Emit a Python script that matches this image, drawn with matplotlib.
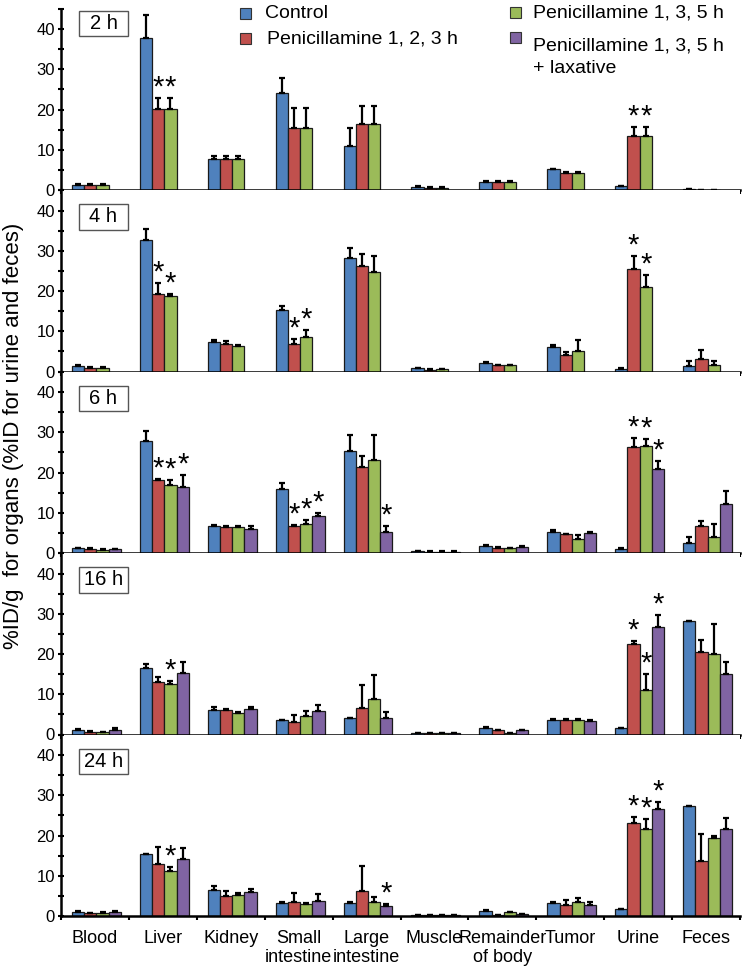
import matplotlib
matplotlib.use("Agg")
import matplotlib.pyplot as plt
from matplotlib.patches import Rectangle
import numpy as np

plt.rcParams['font.family'] = ['Liberation Sans', 'DejaVu Sans']

categories = ["Blood", "Liver", "Kidney", "Small\nintestine", "Large\nintestine",
              "Muscle", "Remainder\nof body", "Tumor", "Urine", "Feces"]
series_names = ["Control", "Penicillamine 1, 2, 3 h", "Penicillamine 1, 3, 5 h",
                "Penicillamine 1, 3, 5 h\n+ laxative"]
series_colors = ["#4F81BD", "#C0504D", "#9BBB59", "#8064A2"]
panel_labels = ["2 h", "4 h", "6 h", "16 h", "24 h"]
y_ticks = [0, 10, 20, 30, 40]

# ---- 2 h ----
means_2h = [
    [1.2, 37.7, 7.7, 24.2, 10.9, 0.8, 2.1, 5.1, 0.9, 0.2],
    [1.2, 20.2, 7.7, 15.3, 16.3, 0.6, 2.1, 4.3, 13.5, 0.1],
    [1.2, 20.2, 7.7, 15.3, 16.3, 0.6, 2.1, 4.3, 13.5, 0.1],
]
errs_2h = [
    [0.2, 5.8, 0.7, 3.7, 4.6, 0.1, 0.2, 0.2, 0.1, 0.0],
    [0.2, 2.6, 0.7, 5.1, 4.5, 0.1, 0.2, 0.2, 2.2, 0.0],
    [0.2, 2.6, 0.7, 5.1, 4.5, 0.1, 0.2, 0.2, 2.2, 0.0],
]
stars_2h = [(1, 1), (1, 2), (8, 1), (8, 2)]

# ---- 4 h ----
means_4h = [
    [1.3, 32.6, 7.4, 15.4, 28.1, 0.8, 2.1, 6.0, 0.7, 1.3],
    [0.9, 19.2, 6.9, 6.9, 26.1, 0.4, 1.5, 4.2, 25.5, 3.1],
    [0.9, 18.8, 6.4, 8.6, 24.8, 0.6, 1.5, 5.0, 21.1, 1.7],
]
errs_4h = [
    [0.2, 2.9, 0.5, 1.0, 2.5, 0.1, 0.2, 0.5, 0.1, 1.3],
    [0.1, 2.8, 0.8, 1.2, 3.1, 0.1, 0.1, 0.6, 3.1, 2.3],
    [0.1, 0.4, 0.2, 1.6, 4.0, 0.1, 0.1, 2.8, 2.8, 1.0],
]
stars_4h = [(1, 1), (1, 2), (3, 1), (3, 2), (8, 1), (8, 2)]

# ---- 6 h ----
means_6h = [
    [1.2, 27.8, 6.7, 15.9, 25.4, 0.5, 1.7, 5.2, 1.1, 2.4],
    [1.1, 18.2, 6.4, 6.8, 21.4, 0.3, 1.3, 4.6, 26.3, 6.6],
    [0.8, 16.8, 6.4, 7.2, 23.2, 0.3, 1.2, 3.6, 26.7, 3.9],
    [0.9, 16.4, 6.0, 9.1, 5.1, 0.3, 1.5, 4.9, 20.8, 12.1],
]
errs_6h = [
    [0.1, 2.4, 0.3, 1.6, 3.8, 0.1, 0.2, 0.6, 0.1, 1.7],
    [0.1, 0.2, 0.3, 0.1, 2.7, 0.1, 0.1, 0.2, 2.3, 1.3],
    [0.1, 1.3, 0.4, 1.1, 6.0, 0.1, 0.1, 0.9, 1.7, 3.4],
    [0.1, 2.9, 0.7, 0.8, 1.7, 0.1, 0.2, 0.2, 2.0, 3.2],
]
stars_6h = [(1, 1), (1, 2), (1, 3), (3, 1), (3, 2), (3, 3), (4, 3),
            (8, 1), (8, 2), (8, 3)]

# ---- 16 h ----
means_16h = [
    [1.2, 16.5, 6.2, 3.5, 4.0, 0.3, 1.7, 3.6, 1.6, 28.3],
    [0.7, 13.0, 6.0, 3.2, 6.6, 0.3, 1.1, 3.7, 22.6, 20.5],
    [0.6, 12.5, 5.4, 4.6, 8.9, 0.3, 0.3, 3.6, 11.1, 19.9],
    [1.2, 15.3, 6.3, 5.8, 4.2, 0.3, 1.0, 3.4, 26.7, 15.0],
]
errs_16h = [
    [0.2, 1.1, 0.7, 0.2, 0.2, 0.05, 0.1, 0.2, 0.1, 0.0],
    [0.1, 1.4, 0.3, 1.7, 5.6, 0.05, 0.1, 0.2, 0.7, 2.9],
    [0.1, 0.7, 0.2, 1.2, 5.9, 0.05, 0.05, 0.2, 3.9, 7.6],
    [0.3, 2.6, 0.5, 1.6, 1.3, 0.05, 0.1, 0.1, 3.1, 3.1],
]
stars_16h = [(1, 2), (8, 1), (8, 2), (8, 3)]

# ---- 24 h ----
means_24h = [
    [1.1, 15.4, 6.4, 3.3, 3.3, 0.3, 1.3, 3.3, 1.7, 27.4],
    [0.7, 12.9, 5.0, 3.6, 6.3, 0.2, 0.15, 2.8, 23.2, 13.7],
    [0.8, 11.2, 5.3, 3.0, 3.6, 0.3, 0.9, 3.6, 21.6, 19.3],
    [1.1, 14.2, 5.9, 3.8, 2.6, 0.2, 0.5, 2.8, 26.7, 21.6],
]
errs_24h = [
    [0.1, 0.1, 1.0, 0.3, 0.3, 0.05, 0.1, 0.3, 0.1, 0.0],
    [0.1, 4.3, 1.1, 2.2, 6.1, 0.05, 0.05, 1.3, 1.5, 6.6],
    [0.1, 1.0, 0.3, 0.3, 1.0, 0.05, 0.1, 0.8, 2.4, 0.6],
    [0.1, 2.6, 0.8, 1.7, 0.3, 0.05, 0.1, 0.8, 1.7, 2.7],
]
stars_24h = [(1, 2), (4, 3), (8, 1), (8, 2), (8, 3)]

panels = [
    (means_2h, errs_2h, stars_2h),
    (means_4h, errs_4h, stars_4h),
    (means_6h, errs_6h, stars_6h),
    (means_16h, errs_16h, stars_16h),
    (means_24h, errs_24h, stars_24h),
]

W, H = 747, 974
fig = plt.figure(figsize=(W / 100, H / 100), dpi=100)

def fx(px):
    return px / W

def fy(py):
    return 1 - py / H

left_px, right_px = 61, 740
bottoms_px = [190, 371.5, 553, 734.5, 916]
panel_h = 181.5
ytop = 45.1
bar_w = 0.18
bar_off = 0.162
box_tops = [44.6, 41.6, 41.6, 41.6, 41.6]

x_cat = np.arange(len(categories))

for p, (means, errs, stars) in enumerate(panels):
    b = bottoms_px[p]
    ax = fig.add_axes([fx(left_px), fy(b), fx(right_px - left_px), panel_h / H])
    ax.set_xlim(0, len(categories))
    ax.set_ylim(0, ytop)
    for j, (m, e) in enumerate(zip(means, errs)):
        xs = x_cat + bar_off + bar_w * j
        ax.bar(xs, m, width=bar_w, align='edge', color=series_colors[j],
               edgecolor='#1a1a1a', linewidth=0.9, zorder=2)
        ax.errorbar(xs + bar_w / 2, m, yerr=[np.zeros(len(e)), e], fmt='none',
                    ecolor='black', elinewidth=1.6, capsize=2.2, capthick=1.6,
                    zorder=3)
    for (ci, sj) in stars:
        top = means[sj][ci] + errs[sj][ci]
        ax.text(ci + bar_off + bar_w * sj + bar_w / 2, top + 2.6, "*",
                ha='center', va='center', fontsize=21, zorder=4)
    for s in ['top', 'right']:
        ax.spines[s].set_visible(False)
    for s in ['left', 'bottom']:
        ax.spines[s].set_linewidth(1.8)
    ax.set_yticks(y_ticks)
    ax.set_yticks([5, 15, 25, 35, 45], minor=True)
    ax.tick_params(axis='y', which='both', direction='inout', length=5,
                   width=1.5, labelsize=12, pad=2)
    ax.set_xticks(np.arange(0, len(categories) + 1))
    ax.tick_params(axis='x', which='major', direction='out', length=3,
                   width=1.5)
    if p == len(panels) - 1:
        ax.set_xticks(x_cat + 0.5, minor=True)
        ax.set_xticklabels([''] * (len(categories) + 1))
        ax.set_xticklabels(categories, minor=True, fontsize=13,
                           linespacing=1.15, va='top')
        ax.tick_params(axis='x', which='minor', length=0, pad=10)
    else:
        ax.set_xticklabels([])
    # panel label box
    bh = 6.4
    ax.add_patch(Rectangle((0.265, box_tops[p] - bh), 0.72, bh,
                           facecolor='white', edgecolor='#555555',
                           linewidth=1.0, zorder=5, clip_on=False))
    ax.text(0.625, box_tops[p] - bh / 2, panel_labels[p], ha='center',
            va='center', fontsize=14.5, zorder=6)

# y label
fig.text(fx(14), fy(436), "%ID/g  for organs (%ID for urine and feces)",
         rotation=90, ha='center', va='center', fontsize=16)

# legend (manual)
sq = 11
legend_items = [
    (245, 13, 265, 0),
    (245, 38.5, 267, 1),
    (516, 12.5, 533, 2),
    (516, 37.5, 533, 3),
]
for cx, cy, tx, k in legend_items:
    fig.add_artist(Rectangle((fx(cx - sq / 2), fy(cy + sq / 2)), sq / W, sq / H,
                             facecolor=series_colors[k], edgecolor='#333333',
                             linewidth=0.8, transform=fig.transFigure))
    fig.text(fx(tx), fy(cy), series_names[k], ha='left', va='top' if k == 3 else 'center',
             fontsize=14, linespacing=1.45)

fig.savefig("out.png", dpi=100)
